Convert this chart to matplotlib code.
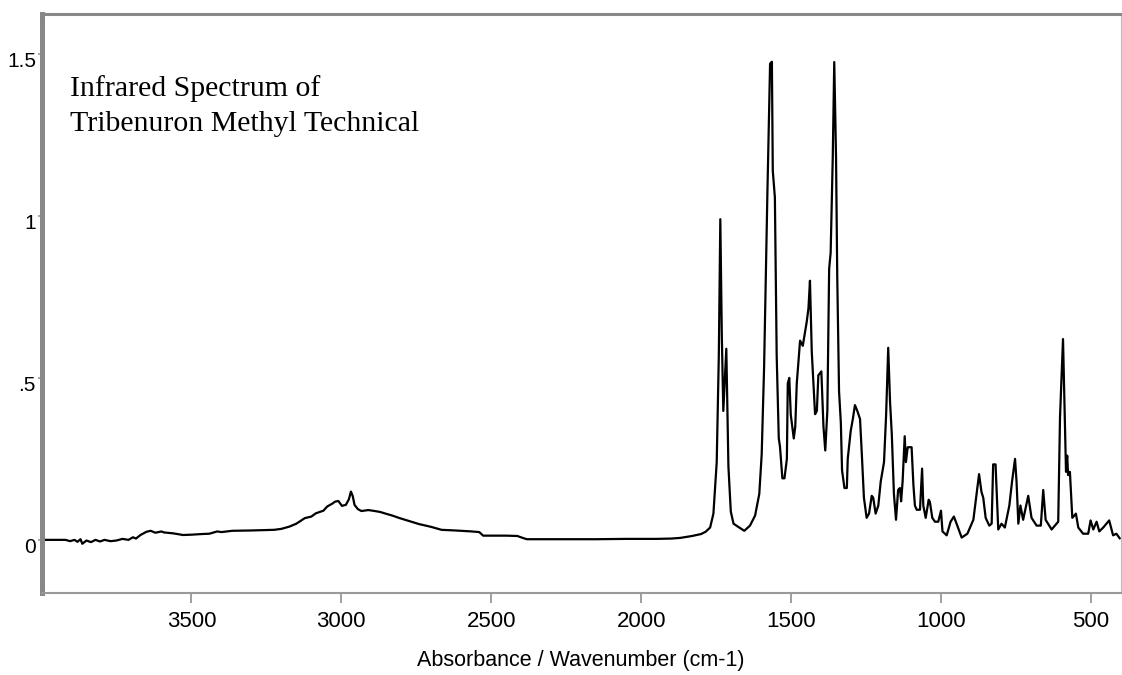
import matplotlib.pyplot as plt
from matplotlib.transforms import ScaledTranslation

# IR spectrum (wavenumber cm-1, absorbance)
wavenumber = [4000, 3960, 3920, 3905, 3890, 3880, 3870, 3864, 3850, 3835, 3820, 3805,
              3790, 3770, 3750, 3730, 3710, 3695, 3685, 3670, 3650, 3636, 3620, 3600,
              3592, 3560, 3528, 3500, 3465, 3440, 3414, 3400, 3364, 3300, 3224, 3200,
              3173, 3150, 3122, 3100, 3085, 3060, 3047, 3030, 3021, 3010, 2998, 2985,
              2975, 2968, 2962, 2956, 2945, 2933, 2910, 2888, 2870, 2856, 2830, 2805,
              2770, 2742, 2700, 2666, 2620, 2565, 2540, 2527, 2450, 2413, 2395, 2381,
              2336, 2250, 2150, 2050, 1950, 1900, 1870, 1830, 1800, 1785, 1770, 1759,
              1748, 1741, 1736, 1731, 1726, 1716, 1709, 1701, 1692, 1676, 1656, 1637,
              1620, 1606, 1598, 1590, 1579, 1570, 1564, 1561, 1554, 1548, 1541, 1537,
              1529, 1522, 1514, 1511, 1506, 1501, 1491, 1486, 1481, 1470, 1461, 1448,
              1442, 1437, 1431, 1426, 1420, 1414, 1409, 1399, 1392, 1386, 1379, 1373,
              1368, 1361, 1356, 1350, 1346, 1340, 1334, 1330, 1322, 1314, 1311, 1301,
              1294, 1287, 1279, 1270, 1264, 1257, 1248, 1240, 1231, 1226, 1218, 1209,
              1201, 1190, 1183, 1176, 1170, 1164, 1157, 1150, 1143, 1137, 1133, 1128,
              1121, 1117, 1111, 1098, 1092, 1087, 1081, 1070, 1063, 1059, 1051, 1041,
              1037, 1029, 1020, 1009, 1000, 995, 981, 968, 957, 948, 931, 912,
              892, 883, 873, 865, 859, 851, 839, 831, 826, 818, 809, 798,
              787, 772, 763, 753, 748, 742, 735, 726, 709, 698, 681, 667,
              659, 651, 631, 609, 603, 593, 587, 583, 579, 576, 570, 562,
              550, 542, 526, 509, 501, 492, 481, 472, 459, 439, 426, 415, 404]
absorbance = [0.0, 0.0, 0.0, -0.004, 0.0, -0.006, 0.002, -0.012, -0.002, -0.007, 0.0, -0.005,
              0.0, -0.004, -0.002, 0.003, 0.0, 0.008, 0.004, 0.015, 0.025, 0.028, 0.022, 0.026,
              0.023, 0.02, 0.015, 0.016, 0.018, 0.019, 0.026, 0.024, 0.028, 0.029, 0.031, 0.034,
              0.041, 0.05, 0.067, 0.072, 0.082, 0.09, 0.103, 0.112, 0.118, 0.12, 0.105, 0.108,
              0.125, 0.149, 0.135, 0.108, 0.095, 0.089, 0.092, 0.089, 0.086, 0.082, 0.075, 0.067,
              0.057, 0.049, 0.04, 0.031, 0.029, 0.026, 0.024, 0.013, 0.013, 0.012, 0.006, 0.002,
              0.002, 0.002, 0.002, 0.003, 0.003, 0.004, 0.006, 0.012, 0.018, 0.025, 0.038, 0.081,
              0.24, 0.569, 0.99, 0.63, 0.398, 0.59, 0.227, 0.087, 0.05, 0.04, 0.028, 0.044,
              0.075, 0.142, 0.264, 0.532, 1.069, 1.47, 1.476, 1.14, 1.057, 0.569, 0.313, 0.288,
              0.19, 0.19, 0.25, 0.483, 0.5, 0.386, 0.313, 0.35, 0.483, 0.615, 0.599, 0.672,
              0.715, 0.8, 0.581, 0.496, 0.388, 0.398, 0.508, 0.52, 0.35, 0.276, 0.398, 0.837,
              0.886, 1.18, 1.475, 1.18, 0.813, 0.459, 0.361, 0.215, 0.16, 0.16, 0.25, 0.337,
              0.373, 0.416, 0.398, 0.373, 0.264, 0.13, 0.068, 0.081, 0.136, 0.13, 0.081, 0.106,
              0.18, 0.24, 0.386, 0.593, 0.428, 0.325, 0.142, 0.062, 0.154, 0.16, 0.119, 0.18,
              0.32, 0.24, 0.286, 0.286, 0.17, 0.106, 0.093, 0.093, 0.22, 0.106, 0.068, 0.124,
              0.117, 0.068, 0.056, 0.056, 0.09, 0.026, 0.014, 0.056, 0.072, 0.05, 0.007, 0.019,
              0.062, 0.13, 0.203, 0.148, 0.13, 0.068, 0.044, 0.05, 0.233, 0.233, 0.032, 0.05,
              0.038, 0.106, 0.18, 0.25, 0.18, 0.05, 0.106, 0.062, 0.136, 0.068, 0.044, 0.044,
              0.154, 0.062, 0.032, 0.056, 0.379, 0.62, 0.373, 0.21, 0.26, 0.2, 0.21, 0.068,
              0.081, 0.038, 0.019, 0.019, 0.06, 0.032, 0.056, 0.026, 0.038, 0.06, 0.014, 0.019, 0.005]

xticks = [3500, 3000, 2500, 2000, 1500, 1000, 500]
yticks = [0, 0.5, 1, 1.5]
ytick_labels = ['0', '.5', '1', '1.5']
title_lines = ['Infrared Spectrum of', 'Tribenuron Methyl Technical']

fig = plt.figure(figsize=(11.22, 6.75), dpi=100)
ax = fig.add_axes([0.037, 0.1215, 0.962, 0.8585])

ax.plot(wavenumber, absorbance, color='black', lw=1.6)

ax.set_xlim(4000, 400)
ax.set_ylim(-0.164, 1.625)

ax.set_xticks(xticks)
ax.set_xticklabels([str(t) for t in xticks], fontsize=16, family='Liberation Sans')
ax.set_yticks(yticks)
ax.set_yticklabels(ytick_labels, fontsize=15, family='Liberation Sans')
ax.tick_params(axis='x', length=7, width=1.3, color='#999999', pad=6)
ax.tick_params(axis='y', length=3, width=1.2, color='#999999', pad=1)

# y labels sit a little below their ticks in the original
shift = ScaledTranslation(0, -6 / 100, fig.dpi_scale_trans)
for lab in ax.get_yticklabels():
    lab.set_transform(lab.get_transform() + shift)

ax.spines['left'].set_color('#888888')
ax.spines['left'].set_linewidth(3.6)
ax.spines['top'].set_color('#888888')
ax.spines['top'].set_linewidth(2.2)
ax.spines['bottom'].set_color('#999999')
ax.spines['bottom'].set_linewidth(1.5)
ax.spines['right'].set_color('#bbbbbb')
ax.spines['right'].set_linewidth(0.8)

ax.set_xlabel('Absorbance / Wavenumber (cm-1)', fontsize=15.5, family='Liberation Sans', labelpad=13)

for line, ypos in zip(title_lines, [0.8576, 0.7972]):
    ax.text(0.0264, ypos, line, transform=ax.transAxes, fontsize=21.5,
            family='Liberation Serif', va='baseline', ha='left')

fig.savefig('out.png', dpi=100)
